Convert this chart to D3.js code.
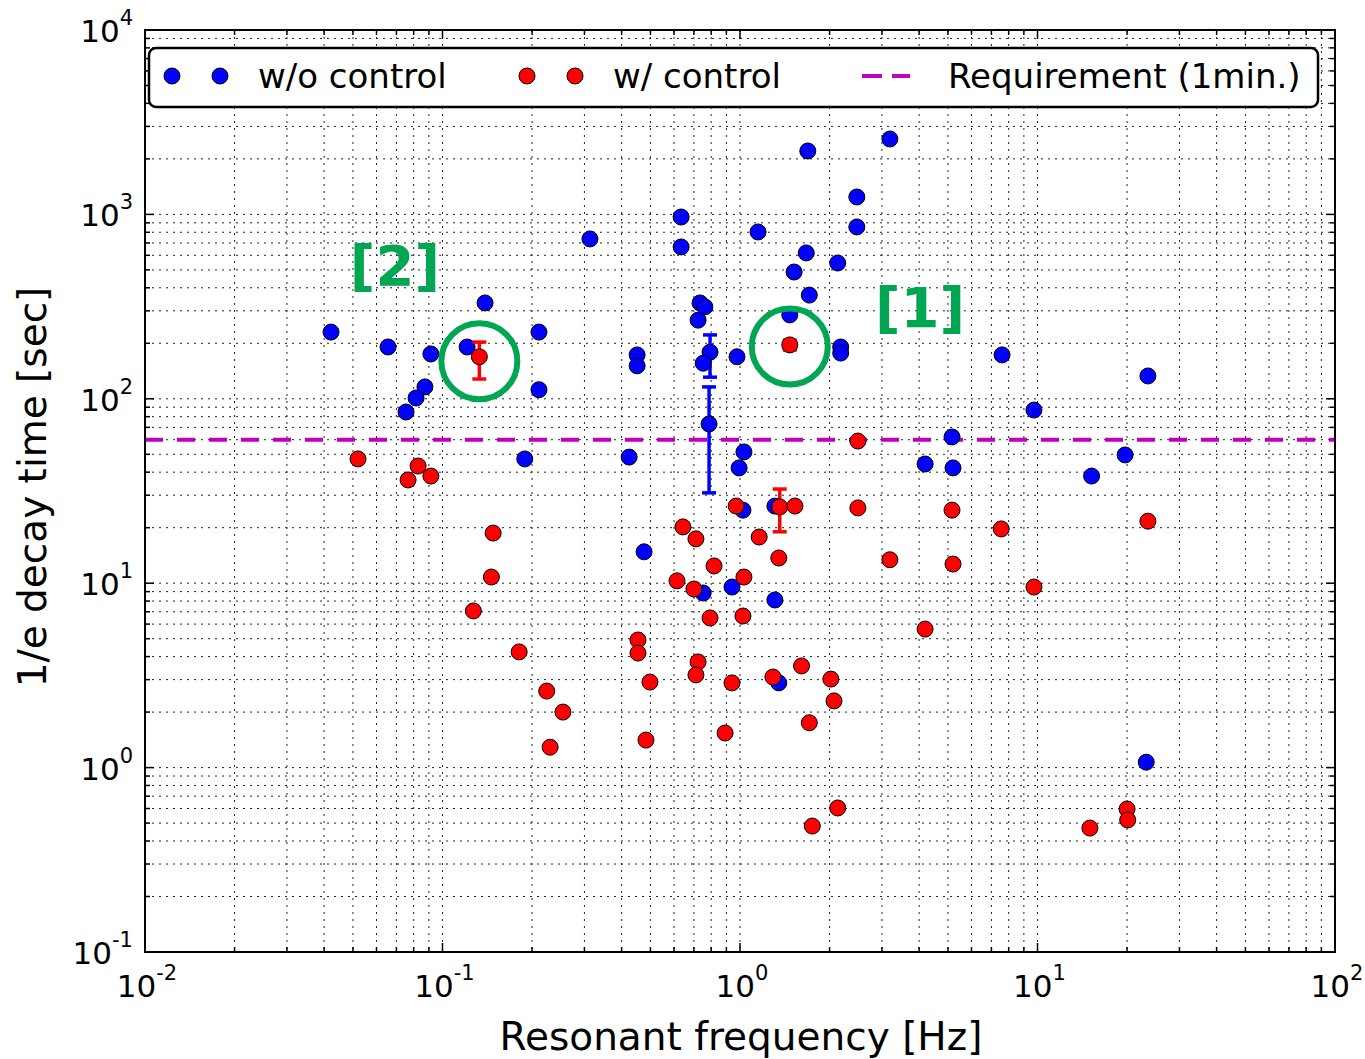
<!DOCTYPE html>
<html>
<head>
<meta charset="utf-8">
<script src="https://cdn.jsdelivr.net/npm/d3@7"></script>
<style>
body { margin: 0; background: #fff; }
text { font-family: "DejaVu Sans", sans-serif; }
</style>
</head>
<body>
<svg id="chart" width="1365" height="1059"></svg>
<script>
// resonant frequency [Hz] and 1/e decay time [sec]
const woFreq = [0.0422, 0.0656, 0.0914, 0.0873, 0.0815, 0.0754, 0.121, 0.139, 0.211, 0.211, 0.189, 0.313, 0.424, 0.451, 0.451, 0.476, 0.634, 0.634, 0.734, 0.762, 0.723, 0.793, 0.752, 0.787, 0.977, 0.993, 1.031, 1.023, 1.15, 0.940, 0.752, 1.31, 1.31, 1.35, 1.69, 1.67, 1.52, 1.71, 1.47, 2.13, 2.18, 2.18, 2.47, 2.47, 3.19, 7.60, 9.73, 23.5, 5.16, 4.19, 5.20, 15.2, 19.7, 23.2];
const woTau  = [230, 191, 175, 116, 101, 84.8, 191, 331, 230, 112, 47.2, 736, 48.3, 173, 151, 14.8, 968, 666, 331, 315, 267, 179, 156, 73.0, 169, 42.2, 51.5, 24.9, 803, 9.53, 8.85, 8.11, 26.2, 2.88, 2207, 618, 487, 365, 285, 545, 191, 177, 1243, 855, 2564, 173, 86.9, 133, 62.1, 44.3, 42.2, 38.1, 49.6, 1.07];

const wFreq = [0.052, 0.0828, 0.0766, 0.0914, 0.133, 0.148, 0.146, 0.127, 0.181, 0.224, 0.254, 0.230, 0.454, 0.454, 0.498, 0.483, 0.643, 0.711, 0.614, 0.700, 0.818, 0.793, 1.023, 1.031, 1.16, 1.35, 0.971, 1.36, 1.53, 2.49, 2.49, 1.47, 0.723, 0.711, 0.940, 1.29, 1.61, 2.02, 2.07, 1.71, 0.891, 2.13, 1.75, 15.0, 20.0, 20.1, 4.19, 3.19, 5.20, 5.16, 7.55, 9.73, 23.5];
const wTau  = [47.2, 43.2, 36.3, 38.1, 169, 18.7, 10.8, 7.07, 4.24, 2.60, 2.00, 1.29, 4.92, 4.18, 2.91, 1.41, 20.2, 17.4, 10.3, 9.30, 12.4, 6.48, 6.64, 10.8, 17.8, 13.7, 26.2, 25.9, 26.2, 25.6, 59.0, 196, 3.74, 3.18, 2.88, 3.10, 3.56, 3.02, 2.30, 1.75, 1.54, 0.604, 0.482, 0.470, 0.596, 0.520, 5.64, 13.4, 12.7, 24.9, 19.7, 9.53, 21.7];

// error bars
const woErrFreq = [0.793, 0.787];
const woErrLow  = [131, 30.9];
const woErrHigh = [222, 116];
const wErrFreq = [0.133, 1.36, 1.47];
const wErrLow  = [128, 19.0, 184];
const wErrHigh = [203, 32.4, 208];

const requirement = 60;
const xDecades = [-2, -1, 0, 1, 2];
const yDecades = [-1, 0, 1, 2, 3, 4];

// highlighted points
const markLabels = ["[2]", "[1]"];
const markFreq = [0.133, 1.47];
const markTau  = [160, 192];
const markLabelFreq = [0.0692, 4.03];
const markLabelTau  = [414, 245];

const legendNames = ["w/o control", "w/ control", "Requirement (1min.)"];

const margin = {top: 30, right: 30, bottom: 107, left: 145};
const W = 1365, H = 1059;
const svg = d3.select("#chart");

const x = d3.scaleLog().domain([1e-2, 1e2]).range([margin.left, W - margin.right]);
const y = d3.scaleLog().domain([1e-1, 1e4]).range([H - margin.bottom, margin.top]);
const [xL, xR] = x.range();
const [yBot, yTop] = y.range();

function minors(decs) {
    let out = [];
    for (let i = 0; i < decs.length - 1; i++)
        for (let k = 2; k <= 9; k++) out.push(k * Math.pow(10, decs[i]));
    return out;
}
const xMaj = xDecades.map(d => Math.pow(10, d));
const yMaj = yDecades.map(d => Math.pow(10, d));
const xMin = minors(xDecades);
const yMin = minors(yDecades);

// grid
const grid = svg.append("g").attr("stroke", "#222").attr("stroke-width", 1).attr("stroke-dasharray", "2,5");
grid.selectAll(".gx").data(xMaj.concat(xMin).filter(v => v > 1e-2 && v < 1e2)).join("line")
    .attr("x1", d => x(d)).attr("x2", d => x(d)).attr("y1", yTop).attr("y2", yBot);
grid.selectAll(".gy").data(yMaj.concat(yMin).filter(v => v > 1e-1 && v < 1e4)).join("line")
    .attr("y1", d => y(d)).attr("y2", d => y(d)).attr("x1", xL).attr("x2", xR);

// ticks on all sides, pointing in
const ticks = svg.append("g").attr("stroke", "#000").attr("stroke-width", 1.5);
[[xMaj, 9], [xMin, 5]].forEach(([vals, len]) => {
    ticks.selectAll(null).data(vals).join("line")
        .attr("x1", d => x(d)).attr("x2", d => x(d)).attr("y1", yBot).attr("y2", yBot - len);
    ticks.selectAll(null).data(vals).join("line")
        .attr("x1", d => x(d)).attr("x2", d => x(d)).attr("y1", yTop).attr("y2", yTop + len);
});
[[yMaj, 9], [yMin, 5]].forEach(([vals, len]) => {
    ticks.selectAll(null).data(vals).join("line")
        .attr("y1", d => y(d)).attr("y2", d => y(d)).attr("x1", xL).attr("x2", xL + len);
    ticks.selectAll(null).data(vals).join("line")
        .attr("y1", d => y(d)).attr("y2", d => y(d)).attr("x1", xR).attr("x2", xR - len);
});

// requirement line
svg.append("line")
    .attr("x1", xL).attr("x2", xR).attr("y1", y(requirement)).attr("y2", y(requirement))
    .attr("stroke", "#bf00bf").attr("stroke-width", 4).attr("stroke-dasharray", "18,14");

// error bars
function errBars(freq, lo, hi, color) {
    const g = svg.append("g").attr("stroke", color).attr("stroke-width", 3.5);
    freq.forEach((f, i) => {
        g.append("line").attr("x1", x(f)).attr("x2", x(f)).attr("y1", y(lo[i])).attr("y2", y(hi[i]));
        [lo[i], hi[i]].forEach(v => g.append("line")
            .attr("x1", x(f) - 7).attr("x2", x(f) + 7).attr("y1", y(v)).attr("y2", y(v)));
    });
}

function dots(freq, tau, color) {
    svg.append("g").selectAll("circle").data(freq).join("circle")
        .attr("cx", d => x(d)).attr("cy", (d, i) => y(tau[i])).attr("r", 8)
        .attr("fill", color).attr("stroke", "#000").attr("stroke-width", 1);
}

errBars(woErrFreq, woErrLow, woErrHigh, "#0000ff");
dots(woFreq, woTau, "#0000ff");
errBars(wErrFreq, wErrLow, wErrHigh, "#ff0000");
dots(wFreq, wTau, "#ff0000");

// frame
svg.append("rect").attr("x", xL).attr("y", yTop).attr("width", xR - xL).attr("height", yBot - yTop)
    .attr("fill", "none").attr("stroke", "#000").attr("stroke-width", 2);

// tick labels
function powLabel(sel) {
    sel.each(function(d) {
        const t = d3.select(this);
        t.append("tspan").text("10");
        t.append("tspan").attr("dy", -17).attr("font-size", 21).text(d);
    });
}
svg.append("g").selectAll("text").data(xDecades).join("text")
    .attr("x", d => x(Math.pow(10, d)) + 2).attr("y", yBot + 45)
    .attr("text-anchor", "middle").attr("font-size", 31).attr("fill", "#000")
    .call(powLabel);
svg.append("g").selectAll("text").data(yDecades).join("text")
    .attr("x", xL - 12).attr("y", d => y(Math.pow(10, d)) + 12)
    .attr("text-anchor", "end").attr("font-size", 31).attr("fill", "#000")
    .call(powLabel);

// axis titles
svg.append("text").attr("x", (xL + xR) / 2 + 1).attr("y", 1050).attr("text-anchor", "middle")
    .attr("font-size", 39).text("Resonant frequency [Hz]");
svg.append("text").attr("transform", `translate(46,${(yBot + yTop) / 2 - 4}) rotate(-90)`)
    .attr("text-anchor", "middle").attr("font-size", 39).text("1/e decay time [sec]");

// legend
const lg = svg.append("g");
lg.append("rect").attr("x", 149).attr("y", 48).attr("width", 1169).attr("height", 59).attr("rx", 7)
    .attr("fill", "#fff").attr("stroke", "#000").attr("stroke-width", 2.5);
[[172, "#0000ff"], [220, "#0000ff"], [527, "#ff0000"], [575, "#ff0000"]].forEach(([cx, c]) =>
    lg.append("circle").attr("cx", cx).attr("cy", 76).attr("r", 8).attr("fill", c)
        .attr("stroke", "#000").attr("stroke-width", 1));
lg.append("line").attr("x1", 862).attr("x2", 910).attr("y1", 76).attr("y2", 76)
    .attr("stroke", "#bf00bf").attr("stroke-width", 4).attr("stroke-dasharray", "20,10");
[258, 613, 948].forEach((lx, i) =>
    lg.append("text").attr("x", lx).attr("y", 88).attr("font-size", 34).text(legendNames[i]));

// highlight circles and labels
const green = "#00a651";
markFreq.forEach((f, i) => {
    svg.append("circle").attr("cx", x(f)).attr("cy", y(markTau[i])).attr("r", 38)
        .attr("fill", "none").attr("stroke", green).attr("stroke-width", 6);
    svg.append("text").attr("x", x(markLabelFreq[i])).attr("y", y(markLabelTau[i]))
        .attr("text-anchor", "middle").attr("font-family", "DejaVu Sans Mono")
        .attr("font-weight", "bold").attr("font-size", 56).attr("fill", green)
        .text(markLabels[i]);
});
</script>
</body>
</html>
